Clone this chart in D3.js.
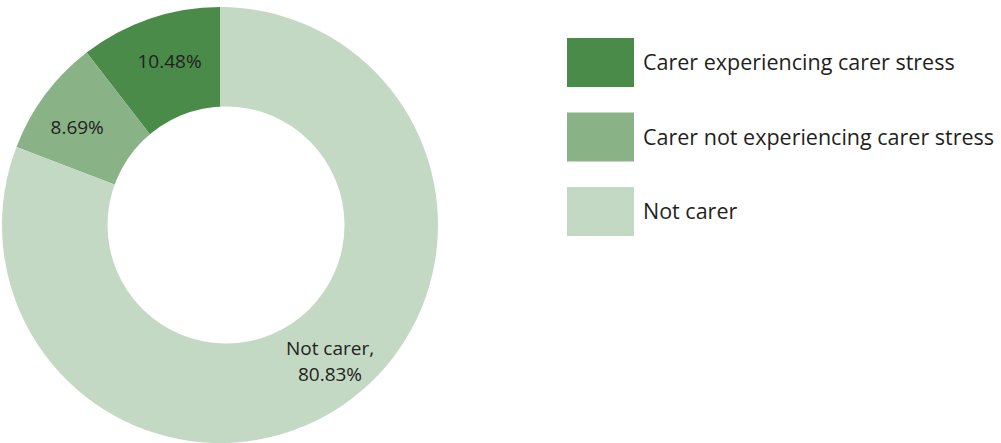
<!DOCTYPE html>
<html>
<head>
<meta charset="utf-8">
<script src="https://cdn.jsdelivr.net/npm/d3@7"></script>
<style>
  html, body { margin: 0; padding: 0; background: #ffffff; }
  svg { display: block; }
  text { font-family: "Open Sans", "Lato", sans-serif; fill: #231f20; }
</style>
</head>
<body>
<svg id="chart" width="1001" height="443"></svg>
<script>
// Share of respondents by caring status
const categories = ["Carer experiencing carer stress", "Carer not experiencing carer stress", "Not carer"];
const values = [10.48, 8.69, 80.83];
const sliceLabels = [["10.48%"], ["8.69%"], ["Not carer,", "80.83%"]];
const colors = ["#4a8b49", "#89b287", "#c3d9c4"];

const width = 1001, height = 443;
const cx = 220, cy = 225;
const outerR = 218;
const holeR = 118.5, holeDx = 6;

// small hand placement tweaks for the in-slice labels
const labelOffsets = [[5.5, 0], [-4, 6], [12, -6.5]];

const svg = d3.select("#chart");

const data = categories.map((c, i) => ({ category: c, value: values[i], label: sliceLabels[i], color: colors[i] }));

// Slices run anticlockwise from 12 o'clock
const pie = d3.pie().value(d => d.value).sort(null).startAngle(0).endAngle(-2 * Math.PI);
const arcs = pie(data);

const arc = d3.arc().innerRadius(0).outerRadius(outerR);
const labelArc = d3.arc().innerRadius(173).outerRadius(173);

const g = svg.append("g").attr("transform", `translate(${cx},${cy})`);

g.selectAll("path.slice")
  .data(arcs)
  .join("path")
  .attr("class", "slice")
  .attr("d", arc)
  .attr("fill", d => d.data.color);

// donut hole
g.append("circle")
  .attr("cx", holeDx)
  .attr("cy", 0)
  .attr("r", holeR)
  .attr("fill", "#ffffff");

const labelSize = 19;
const lineH = 26;

// one text element per label line
arcs.forEach((d, k) => {
  const [x0, y0] = labelArc.centroid(d);
  const x = x0 + labelOffsets[k][0], y = y0 + labelOffsets[k][1];
  const lines = d.data.label;
  g.selectAll(null)
    .data(lines)
    .join("text")
    .attr("class", "slice-label")
    .attr("text-anchor", "middle")
    .attr("font-size", labelSize)
    .attr("x", x)
    .attr("y", (ln, i) => y + (i - (lines.length - 1) / 2) * lineH)
    .attr("dy", "0.35em")
    .text(ln => ln);
});

// Legend
const legendSize = 21.5;
const legendX = 567, legendY = 38, swW = 67, swH = 49, legendStep = 74.5;
const legend = svg.append("g").attr("transform", `translate(${legendX},${legendY})`);
const items = legend.selectAll("g.item")
  .data(data)
  .join("g")
  .attr("class", "item")
  .attr("transform", (d, i) => `translate(0,${i * legendStep})`);

items.append("rect")
  .attr("width", swW)
  .attr("height", swH)
  .attr("fill", d => d.color);

items.append("text")
  .attr("x", 76)
  .attr("y", swH / 2)
  .attr("dy", "0.35em")
  .attr("font-size", legendSize)
  .text(d => d.category);
</script>
</body>
</html>
